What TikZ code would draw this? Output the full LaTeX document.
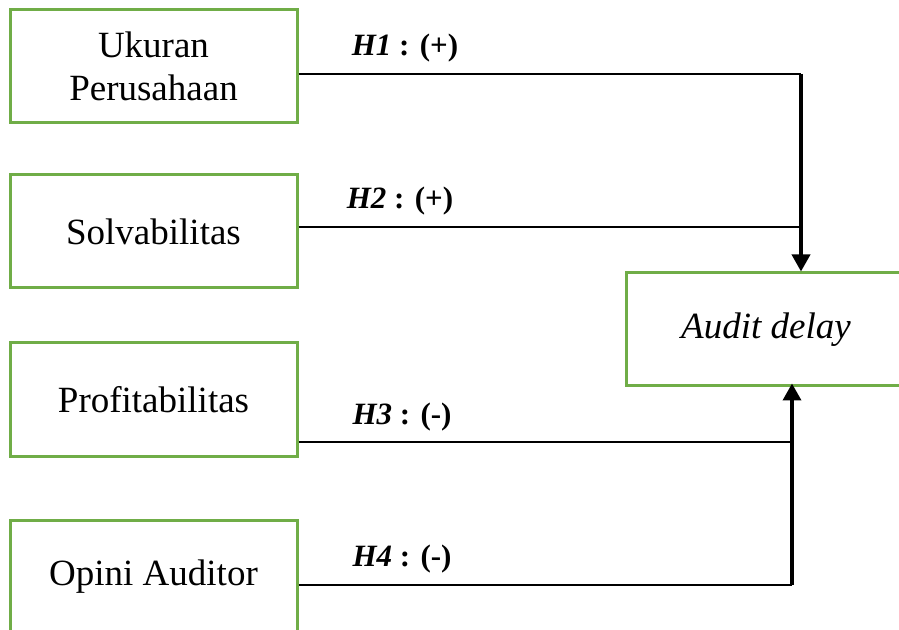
\documentclass[tikz,border=0pt]{standalone}
\usepackage{fontspec}
\setmainfont{Liberation Serif}
\usetikzlibrary{arrows.meta}
\definecolor{boxgreen}{RGB}{112,173,71}

\begin{document}
\begin{tikzpicture}[x=0.5pt,y=-0.5pt]
      \useasboundingbox (0,0) rectangle (899,630);
      \begin{scope}[every node/.style={draw=boxgreen,line width=1.5pt,minimum width=143.5pt,minimum height=56.5pt,inner sep=0pt,align=center,font=\fontsize{18.5}{21.5}\selectfont}]
        \node (ukuran) at (153.5,66.5) {Ukuran\\Perusahaan};
        \node (solva) at (153.5,231.5) {Solvabilitas};
        \node (profit) at (153.5,399.5) {Profitabilitas};
        \node (opini) at (153.5,577) {Opini Auditor};
        \node[minimum width=140pt] (audit) at (766,329.5) {\itshape Audit delay};
      \end{scope}
      \begin{scope}[every node/.style={font=\bfseries\fontsize{15.5}{18}\selectfont}]
        \node (h1) at (405,48) {\textit{H1} : (+)};
        \node (h2) at (400,201) {\textit{H2} : (+)};
        \node (h3) at (402,417) {\textit{H3} : (-)};
        \node (h4) at (402,559) {\textit{H4} : (-)};
      \end{scope}
      \coordinate (c1) at (801,74);
      \coordinate (c2) at (801,227);
      \coordinate (c3) at (792,442);
      \coordinate (c4) at (792,585);
      \begin{scope}[every path/.style={draw,line width=1.4pt}]
        \path (ukuran.east |- c1) -- (c1);
        \path (solva.east |- c2) -- (c2);
        \path (profit.east |- c3) -- (c3);
        \path (opini.east |- c4) -- (c4);
      \end{scope}
      \begin{scope}[every path/.style={draw,line width=1.8pt,-{Triangle[width=9pt,length=8.5pt]}}]
        \path (c1) -- (audit.north -| c1);
        \path (c4) -- ([yshift=2pt]audit.south -| c4);
      \end{scope}
    \end{tikzpicture}
\end{document}
